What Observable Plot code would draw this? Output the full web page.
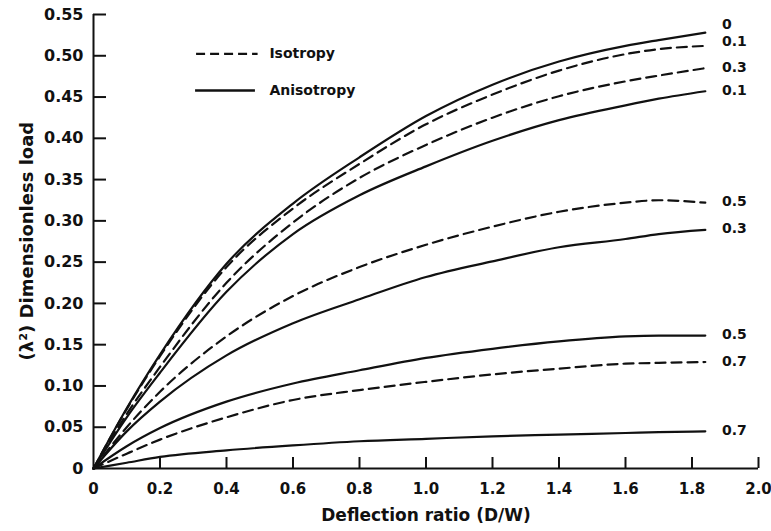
<!DOCTYPE html>
<html>
<head>
<meta charset="utf-8">
<script src="https://cdn.jsdelivr.net/npm/d3@7"></script>
<script src="https://cdn.jsdelivr.net/npm/@observablehq/plot@0.6"></script>
<style>
  html, body { margin: 0; padding: 0; background: #fff; }
  #chart { width: 771px; height: 531px; }
</style>
</head>
<body>
<div id="chart"></div>
<script>
// ---- data ----
const deflection = [0, 0.1, 0.2, 0.4, 0.6, 0.8, 1.0, 1.2, 1.4, 1.6, 1.7, 1.84];

const aniso0  = [0, 0.073, 0.138, 0.248, 0.321, 0.377, 0.427, 0.465, 0.493, 0.512, 0.519, 0.528];
const iso01   = [0, 0.072, 0.136, 0.244, 0.315, 0.369, 0.417, 0.453, 0.482, 0.502, 0.508, 0.512];
const iso03   = [0, 0.066, 0.123, 0.225, 0.298, 0.352, 0.392, 0.425, 0.451, 0.469, 0.476, 0.485];
const aniso01 = [0, 0.062, 0.116, 0.214, 0.284, 0.331, 0.366, 0.397, 0.422, 0.440, 0.448, 0.457];
const iso05   = [0, 0.050, 0.093, 0.160, 0.209, 0.244, 0.271, 0.293, 0.311, 0.322, 0.325, 0.322];
const aniso03 = [0, 0.045, 0.081, 0.137, 0.176, 0.205, 0.232, 0.251, 0.268, 0.278, 0.284, 0.289];
const aniso05 = [0, 0.027, 0.049, 0.081, 0.103, 0.119, 0.134, 0.145, 0.154, 0.160, 0.161, 0.161];
const iso07   = [0, 0.018, 0.035, 0.062, 0.083, 0.095, 0.105, 0.114, 0.121, 0.127, 0.128, 0.129];
const aniso07 = [0, 0.007, 0.014, 0.022, 0.028, 0.033, 0.036, 0.039, 0.041, 0.043, 0.044, 0.045];

const seriesKeys   = ["aniso0", "iso01", "iso03", "aniso01", "iso05", "aniso03", "aniso05", "iso07", "aniso07"];
const seriesValues = [aniso0, iso01, iso03, aniso01, iso05, aniso03, aniso05, iso07, aniso07];
const seriesTypes  = ["Anisotropy", "Isotropy", "Isotropy", "Anisotropy", "Isotropy", "Anisotropy", "Anisotropy", "Isotropy", "Anisotropy"];
const seriesLabels = ["0", "0.1", "0.3", "0.1", "0.5", "0.3", "0.5", "0.7", "0.7"];

const legendLabels = ["Isotropy", "Anisotropy"];

const xTicks = [0, 0.2, 0.4, 0.6, 0.8, 1.0, 1.2, 1.4, 1.6, 1.8, 2.0];
const xTickLabels = ["0", "0.2", "0.4", "0.6", "0.8", "1.0", "1.2", "1.4", "1.6", "1.8", "2.0"];
const yTicks = [0, 0.05, 0.10, 0.15, 0.20, 0.25, 0.30, 0.35, 0.40, 0.45, 0.50, 0.55];
const yTickLabels = ["0", "0.05", "0.10", "0.15", "0.20", "0.25", "0.30", "0.35", "0.40", "0.45", "0.50", "0.55"];

const xTitle = "Deflection ratio (D/W)";
const yTitle = "(\u03BB\u00B2) Dimensionless load";

// ---- build tables ----
const rows = [];
seriesKeys.forEach((key, s) => {
  seriesValues[s].forEach((v, i) => {
    rows.push({key, type: seriesTypes[s], x: deflection[i], y: v});
  });
});
const ends = seriesKeys.map((key, s) => ({
  key, label: seriesLabels[s], y: seriesValues[s][seriesValues[s].length - 1]
}));
const legendRows = legendLabels.map((label, i) => ({label, i}));

const ink = "#111";
const W = 771, H = 531, ML = 93, MR = 13, MT = 14, MB = 63;
const xPerPx = 2 / (W - ML - MR);      // data units per pixel, x
const yPerPx = 0.55 / (H - MT - MB);   // data units per pixel, y
const legendY = [0.5024, 0.458];

const chart = Plot.plot({
  width: W,
  height: H,
  marginLeft: ML,
  marginRight: MR,
  marginTop: MT,
  marginBottom: MB,
  x: {domain: [0, 2]},
  y: {domain: [0, 0.55]},
  style: {
    fontFamily: "'DejaVu Sans', sans-serif",
    fontSize: "15px",
    fontWeight: "bold",
    color: ink,
    background: "#fff"
  },
  marks: [
    // tick labels
    Plot.axisX(xTicks, {
      tickSize: 0, tickPadding: 15,
      tickFormat: d => xTickLabels[xTicks.indexOf(d)], label: null, fontSize: 15
    }),
    Plot.axisY(yTicks, {
      tickSize: 0, tickPadding: 10,
      tickFormat: d => yTickLabels[yTicks.indexOf(d)], label: null, fontSize: 16
    }),
    // inward tick marks
    Plot.ruleX(xTicks.slice(1), {x: d => d, y1: 0, y2: 11 * yPerPx, stroke: ink, strokeWidth: 2}),
    Plot.ruleY(yTicks.slice(1), {y: d => d, x1: 0, x2: 13 * xPerPx, stroke: ink, strokeWidth: 2}),
    Plot.ruleX([0], {stroke: ink, strokeWidth: 2}),
    Plot.ruleY([0], {stroke: ink, strokeWidth: 2}),
    Plot.line(rows.filter(d => d.type === "Anisotropy"), {
      x: "x", y: "y", z: "key", curve: "monotone-x",
      stroke: ink, strokeWidth: 2.2
    }),
    Plot.line(rows.filter(d => d.type === "Isotropy"), {
      x: "x", y: "y", z: "key", curve: "monotone-x",
      stroke: ink, strokeWidth: 2.2, strokeDasharray: "10,6"
    }),
    // end-of-curve labels
    Plot.text(ends.filter(d => d.key === "aniso0"), {
      x: 1.89, y: "y", text: "label", textAnchor: "start", dy: -8, fontSize: 14
    }),
    Plot.text(ends.filter(d => d.key === "iso01"), {
      x: 1.89, y: "y", text: "label", textAnchor: "start", dy: -4, fontSize: 14
    }),
    Plot.text(ends.filter(d => d.key !== "aniso0" && d.key !== "iso01"), {
      x: 1.89, y: "y", text: "label", textAnchor: "start", dy: -1, fontSize: 14
    }),
    // legend
    Plot.ruleY(legendRows.filter(d => d.label === "Isotropy"), {
      y: d => legendY[d.i], x1: 0.31, x2: 0.495, stroke: ink, strokeWidth: 2.2,
      strokeDasharray: "9,5"
    }),
    Plot.ruleY(legendRows.filter(d => d.label === "Anisotropy"), {
      y: d => legendY[d.i], x1: 0.307, x2: 0.487, stroke: ink, strokeWidth: 2.4
    }),
    Plot.text(legendRows, {
      x: 0.529, y: d => legendY[d.i], text: "label", textAnchor: "start", fontSize: 14
    }),
    // axis titles
    Plot.text([xTitle], {frameAnchor: "bottom", dy: 52, text: d => d, fontSize: 17}),
    Plot.text([yTitle], {x: -0.198, y: 0.2755, rotate: -90, text: d => d, fontSize: 18})
  ]
});

document.getElementById("chart").appendChild(chart);
</script>
</body>
</html>
